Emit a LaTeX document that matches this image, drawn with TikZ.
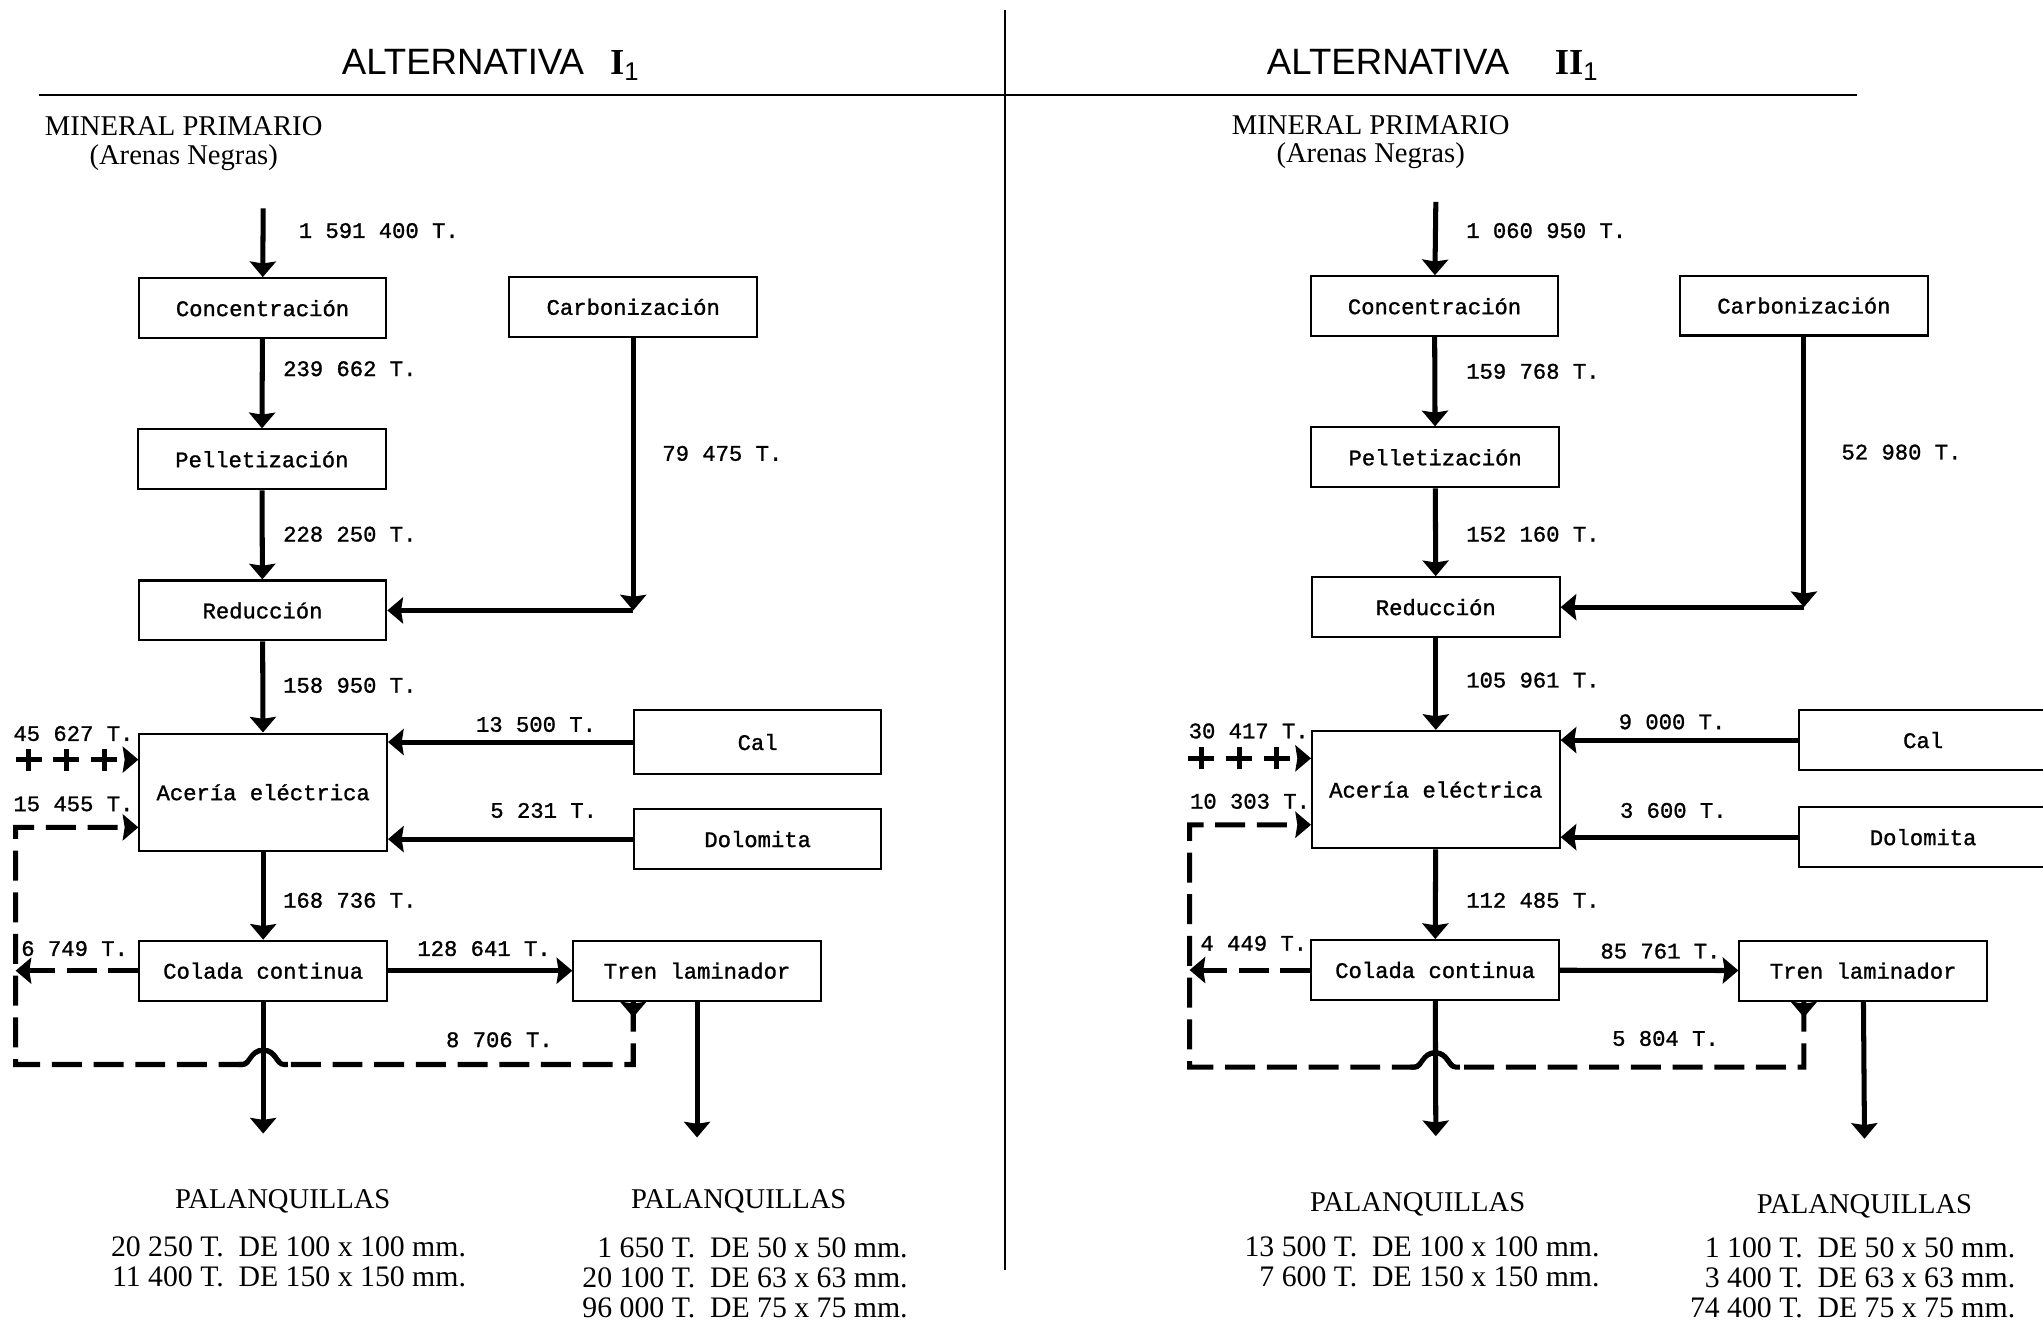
\documentclass[tikz,border=0pt]{standalone}
\usepackage{fontspec}
\setmainfont{Liberation Serif}
\setsansfont{Liberation Sans}
\setmonofont{Liberation Mono}
\newfontfamily\typerfamily[FakeBold=1.2]{Liberation Mono}
\usepackage{tikz}
\usetikzlibrary{arrows.meta, positioning, calc, decorations.markings}

\newcommand{\stagefont}{\typerfamily\fontsize{9.7}{11}\selectfont}
\newcommand{\headfont}{\sffamily\fontsize{16}{18}\selectfont}
\newcommand{\notefont}{\rmfamily\fontsize{12.5}{12.5}\selectfont}
\newcommand{\listfont}{\rmfamily\fontsize{13}{13.1}\selectfont}

\tikzstyle{stage} = [rectangle, minimum width=38mm, minimum height=9.2mm, inner sep=0pt, text centered, draw=black, line width=0.9pt, font=\stagefont]
\tikzstyle{flow} = [line width=2.2pt, ->]
\tikzstyle{recycle} = [line width=2.2pt, dash pattern=on 4.6mm off 1.8mm]
\tikzstyle{hump} = [line width=2.2pt]
\tikzstyle{scrap} = [line width=2.2pt, dash pattern=on 4mm off 1.8mm, ->, postaction={decorate}, decoration={markings, mark=between positions 2mm and 14mm step 5.8mm with {\draw[solid, -, line width=2.2pt] (0,-1.7mm) -- (0,1.7mm);}}]
\tikzstyle{backtip} = [postaction={decorate}, decoration={markings, mark=at position 2.4mm with {\arrow{>}}}]
\tikzstyle{qty} = [anchor=west, inner sep=0pt, font=\stagefont]
\tikzstyle{rule} = [line width=0.9pt]

\begin{document}
\begin{tikzpicture}[x=0.2mm, y=-0.2mm, >={Stealth[length=2.4mm, width=4mm, inset=0.3mm]}]
    \useasboundingbox (0,0) rectangle (1568,1014);

    \draw[rule] (771,8) -- (771,975);
    \draw[rule] (30,73) -- (1425,73);

    % Alternativa I
    \node[anchor=west, inner sep=0pt, font=\headfont] (headA) at (262,50) {ALTERNATIVA\hspace{4mm}{\rmfamily\bfseries I}\textsubscript{1}};
    \node[align=center, inner sep=0pt, font=\notefont] (minA) at (141,110) {MINERAL PRIMARIO\\(Arenas Negras)};

    \node (conA) [stage] at (201.5,236.5) {Concentración};
    \node (carbA) [stage] at (486,235.5) {Carbonización};
    \node (pelA) [stage] at (201,352.5) {Pelletización};
    \node (redA) [stage] at (201.5,468.5) {Reducción};
    \node (aceA) [stage, minimum height=18mm] at (202,608) {Acería eléctrica};
    \node (calA) [stage, minimum height=9.8mm] at (581.5,569.5) {Cal};
    \node (dolA) [stage] at (581.5,644) {Dolomita};
    \node (colA) [stage] at (202,745) {Colada continua};
    \node (trenA) [stage] at (535,745) {Tren laminador};

    \coordinate (srcA) at (202,160);
    \coordinate (scrA) at (12,583);
    \coordinate (retA) at (12,635);
    \coordinate (loopA) at (12,817);
    \coordinate (outA) at (202,870);
    \coordinate (rolA) at (535,873);

    \draw[flow] (srcA) -- (conA);
    \draw[flow] (conA) -- (pelA);
    \draw[flow] (pelA) -- (redA);
    \draw[flow] (carbA) -- (carbA |- redA);
    \draw[flow] (carbA |- redA) -- (redA);
    \draw[flow] (redA) -- (aceA);
    \draw[flow] (calA) -- (calA -| aceA.east);
    \draw[flow] (dolA) -- (dolA -| aceA.east);
    \draw[flow] (aceA) -- (colA);
    \draw[flow] (colA) -- (trenA);
    \draw[flow] (colA) -- (outA);
    \draw[flow] (trenA) -- (rolA);
    \draw[scrap] (scrA) -- (scrA -| aceA.west);
    \draw[recycle, ->] (colA.west) -- (colA.west -| loopA);
    \draw[recycle, ->, backtip] (trenA.south -| carbA) -- (carbA |- loopA) -- ($(colA |- loopA)+(16,0)$) .. controls +(-6,0) and +(10,0) .. ($(colA |- loopA)+(0,-11)$) .. controls +(-10,0) and +(6,0) .. ($(colA |- loopA)+(-16,0)$) -- (loopA) -- (retA) -- (retA -| aceA.west);
    \draw[hump] ($(colA |- loopA)+(19,0)$) -- ($(colA |- loopA)+(16,0)$) .. controls +(-6,0) and +(10,0) .. ($(colA |- loopA)+(0,-11)$) .. controls +(-10,0) and +(6,0) .. ($(colA |- loopA)+(-16,0)$) -- ($(colA |- loopA)+(-19,0)$);

    \node (qA1) [qty] at (229,177) {1 591 400 T.};
    \node (qA2) [qty] at (217,283) {239 662 T.};
    \node (qA3) [qty] at (508,348) {79 475 T.};
    \node (qA4) [qty] at (217,410) {228 250 T.};
    \node (qA5) [qty] at (217,526) {158 950 T.};
    \node (qA6) [qty] at (365,556) {13 500 T.};
    \node (qA7) [qty] at (376,622) {5 231 T.};
    \node (qA8) [qty] at (10,563) {45 627 T.};
    \node (qA9) [qty] at (10,617) {15 455 T.};
    \node (qA10) [qty] at (217,691) {168 736 T.};
    \node (qA11) [qty] at (16,728) {6 749 T.};
    \node (qA12) [qty] at (320,728) {128 641 T.};
    \node (qA13) [qty] at (342,798) {8 706 T.};

    \node (palA1) [inner sep=0pt, font=\notefont] at (217,922) {PALANQUILLAS};
    \node (palA2) [inner sep=0pt, font=\notefont] at (567,922) {PALANQUILLAS};
    \node (sizA1) [anchor=east, align=right, inner sep=0pt, font=\listfont] at (358,968.5) {20 250 T.\ \ DE 100 x 100 mm.\\11 400 T.\ \ DE 150 x 150 mm.};
    \node (sizA2) [anchor=east, align=right, inner sep=0pt, font=\listfont] at (697,980.5) {1 650 T.\ \ DE 50 x 50 mm.\\20 100 T.\ \ DE 63 x 63 mm.\\96 000 T.\ \ DE 75 x 75 mm.};

    % Alternativa II
    \node[anchor=west, inner sep=0pt, font=\headfont] (headB) at (972,50) {ALTERNATIVA\hspace{7mm}{\rmfamily\bfseries II}\textsubscript{1}};
    \node[align=center, inner sep=0pt, font=\notefont] (minB) at (1052,109) {MINERAL PRIMARIO\\(Arenas Negras)};

    \node (conB) [stage] at (1101,235) {Concentración};
    \node (carbB) [stage] at (1384.5,234.5) {Carbonización};
    \node (pelB) [stage] at (1101.5,351) {Pelletización};
    \node (redB) [stage] at (1102,466) {Reducción};
    \node (aceB) [stage, minimum height=18mm] at (1102,606) {Acería eléctrica};
    \node (calB) [stage] at (1476,568) {Cal};
    \node (dolB) [stage] at (1476,642.5) {Dolomita};
    \node (colB) [stage] at (1101.5,744.5) {Colada continua};
    \node (trenB) [stage] at (1430,745) {Tren laminador};

    \coordinate (srcB) at (1102,155);
    \coordinate (scrB) at (912,582);
    \coordinate (retB) at (913,633);
    \coordinate (loopB) at (913,819);
    \coordinate (outB) at (1102,872);
    \coordinate (rolB) at (1431,874);

    \draw[flow] (srcB) -- (conB);
    \draw[flow] (conB) -- (pelB);
    \draw[flow] (pelB) -- (redB);
    \draw[flow] (carbB) -- (carbB |- redB);
    \draw[flow] (carbB |- redB) -- (redB);
    \draw[flow] (redB) -- (aceB);
    \draw[flow] (calB) -- (calB -| aceB.east);
    \draw[flow] (dolB) -- (dolB -| aceB.east);
    \draw[flow] (aceB) -- (colB);
    \draw[flow] (colB) -- (trenB);
    \draw[flow] (colB) -- (outB);
    \draw[flow] (trenB) -- (rolB);
    \draw[scrap] (scrB) -- (scrB -| aceB.west);
    \draw[recycle, ->] (colB.west) -- (colB.west -| loopB);
    \draw[recycle, ->, backtip] (trenB.south -| carbB) -- (carbB |- loopB) -- ($(colB |- loopB)+(16,0)$) .. controls +(-6,0) and +(10,0) .. ($(colB |- loopB)+(0,-11)$) .. controls +(-10,0) and +(6,0) .. ($(colB |- loopB)+(-16,0)$) -- (loopB) -- (retB) -- (retB -| aceB.west);
    \draw[hump] ($(colB |- loopB)+(19,0)$) -- ($(colB |- loopB)+(16,0)$) .. controls +(-6,0) and +(10,0) .. ($(colB |- loopB)+(0,-11)$) .. controls +(-10,0) and +(6,0) .. ($(colB |- loopB)+(-16,0)$) -- ($(colB |- loopB)+(-19,0)$);

    \node (qB1) [qty] at (1125,177) {1 060 950 T.};
    \node (qB2) [qty] at (1125,285) {159 768 T.};
    \node (qB3) [qty] at (1413,347) {52 980 T.};
    \node (qB4) [qty] at (1125,410) {152 160 T.};
    \node (qB5) [qty] at (1125,522) {105 961 T.};
    \node (qB6) [qty] at (1242,554) {9 000 T.};
    \node (qB7) [qty] at (1243,622) {3 600 T.};
    \node (qB8) [qty] at (912,561) {30 417 T.};
    \node (qB9) [qty] at (913,615) {10 303 T.};
    \node (qB10) [qty] at (1125,691) {112 485 T.};
    \node (qB11) [qty] at (921,724) {4 449 T.};
    \node (qB12) [qty] at (1228,730) {85 761 T.};
    \node (qB13) [qty] at (1237,797) {5 804 T.};

    \node (palB1) [inner sep=0pt, font=\notefont] at (1088,924) {PALANQUILLAS};
    \node (palB2) [inner sep=0pt, font=\notefont] at (1431,926) {PALANQUILLAS};
    \node (sizB1) [anchor=east, align=right, inner sep=0pt, font=\listfont] at (1228,968.5) {13 500 T.\ \ DE 100 x 100 mm.\\7 600 T.\ \ DE 150 x 150 mm.};
    \node (sizB2) [anchor=east, align=right, inner sep=0pt, font=\listfont] at (1547,980.5) {1 100 T.\ \ DE 50 x 50 mm.\\3 400 T.\ \ DE 63 x 63 mm.\\74 400 T.\ \ DE 75 x 75 mm.};
\end{tikzpicture}
\end{document}
